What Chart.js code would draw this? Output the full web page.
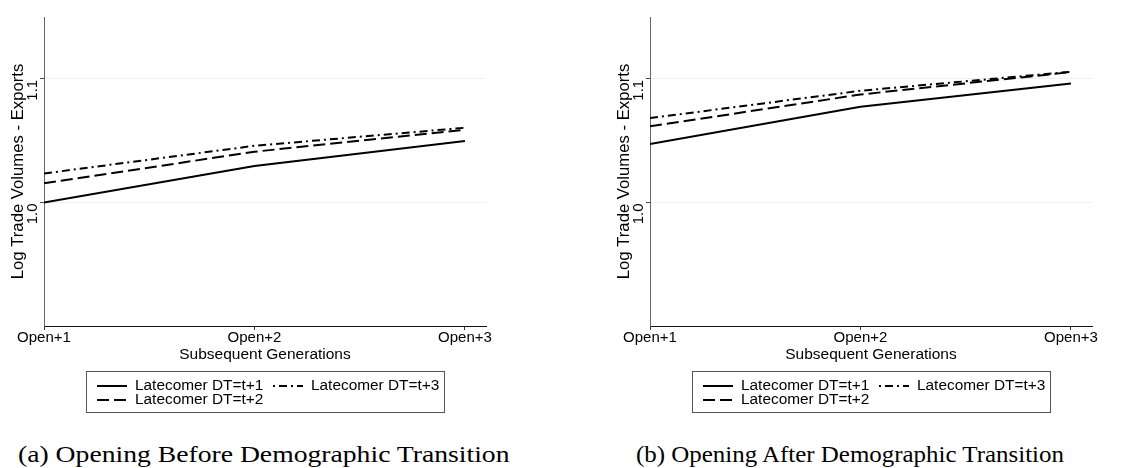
<!DOCTYPE html>
<html>
<head>
<meta charset="utf-8">
<script src="https://cdn.jsdelivr.net/npm/chart.js@4"></script>
<style>
  html, body { margin: 0; padding: 0; background: #fff; }
  body { width: 1136px; height: 468px; position: relative; overflow: hidden; }
  .wrap { position: absolute; top: 0; width: 530px; height: 420px; }
  .cap { position: absolute; top: 441px; font-family: "Liberation Serif", serif; font-size: 24px; color: #000; white-space: nowrap; transform-origin: 0 0; }
</style>
</head>
<body>
<div class="wrap" style="left:0px"><canvas id="c1" width="530" height="420"></canvas></div>
<div class="wrap" style="left:606px"><canvas id="c2" width="530" height="420"></canvas></div>
<div class="cap" id="capA">(a) Opening Before Demographic Transition</div>
<div class="cap" id="capB">(b) Opening After Demographic Transition</div>
<script>
// ---- data ----
const categories = ['Open+1', 'Open+2', 'Open+3'];
const xPositions = [1, 2, 3];
const yTickValues = [1.0, 1.1];
const yTickLabels = ['1.0', '1.1'];
const seriesNames = ['Latecomer DT=t+1', 'Latecomer DT=t+2', 'Latecomer DT=t+3'];

// (a) Opening Before Demographic Transition
const beforeT1 = [1.000, 1.0294, 1.0496];
const beforeT2 = [1.0154, 1.0410, 1.0588];
const beforeT3 = [1.0234, 1.0458, 1.0604];

// (b) Opening After Demographic Transition
const afterT1 = [1.0472, 1.0774, 1.0962];
const afterT2 = [1.0615, 1.0873, 1.1054];
const afterT3 = [1.0682, 1.0903, 1.1057];

const yTitle = 'Log Trade Volumes - Exports';
const xTitle = 'Subsequent Generations';

const FONT = '"Liberation Sans", Arial, sans-serif';
const dashes = [[], [12, 5], [8, 4, 2, 4]];

function toPoints(vals) { return vals.map((v, i) => ({ x: xPositions[i], y: v })); }

const decorPlugin = {
  id: 'decor',
  afterDraw(chart) {
    const ctx = chart.ctx;
    const xs = chart.scales.x, ys = chart.scales.y;
    const area = chart.chartArea;
    ctx.save();
    ctx.fillStyle = '#000';
    ctx.font = '15px ' + FONT;
    // y tick labels (rotated)
    yTickValues.forEach((v, i) => {
      const y = ys.getPixelForValue(v);
      ctx.save();
      ctx.translate(33, y + 1);
      ctx.rotate(-Math.PI / 2);
      ctx.textAlign = 'right';
      ctx.textBaseline = 'middle';
      ctx.fillText(yTickLabels[i], 0, 0);
      ctx.restore();
    });
    // y title
    ctx.save();
    ctx.font = '16.7px ' + FONT;
    ctx.translate(18, (area.top + area.bottom) / 2);
    ctx.rotate(-Math.PI / 2);
    ctx.textAlign = 'center';
    ctx.textBaseline = 'middle';
    ctx.fillText(yTitle, 0, 0);
    ctx.restore();
    // x tick labels
    ctx.textAlign = 'center';
    ctx.textBaseline = 'middle';
    categories.forEach((c, i) => {
      ctx.fillText(c, xs.getPixelForValue(xPositions[i]), 338);
    });
    // x title
    ctx.font = '15.5px ' + FONT;
    ctx.fillText(xTitle, (area.left + area.right) / 2, 355);

    // legend
    ctx.font = '15.4px ' + FONT;
    const boxL = 86, boxT = 371, boxW = 358, boxH = 41;
    ctx.strokeStyle = '#555';
    ctx.lineWidth = 1;
    ctx.strokeRect(boxL + 0.5, boxT + 0.5, boxW, boxH);
    const slots = [[0, 0], [1, 0], [0, 1]]; // [row, col] for each dataset
    chart.data.datasets.forEach((ds, i) => {
      const [row, col] = slots[i];
      const sx = boxL + (col === 0 ? 11 : 187);
      const cy = boxT + 15 + row * 14;
      ctx.save();
      ctx.strokeStyle = ds.borderColor;
      ctx.lineWidth = 2;
      ctx.setLineDash(ds.borderDash || []);
      ctx.lineDashOffset = i === 2 ? 12 : 0;
      ctx.beginPath();
      ctx.moveTo(sx, cy);
      ctx.lineTo(sx + 30, cy);
      ctx.stroke();
      ctx.restore();
      ctx.fillStyle = '#000';
      ctx.textAlign = 'left';
      ctx.textBaseline = 'middle';
      ctx.fillText(ds.label, sx + 38, cy);
    });
    ctx.restore();
  }
};

function makeChart(id, s1, s2, s3) {
  const series = [s1, s2, s3];
  return new Chart(document.getElementById(id), {
    type: 'line',
    data: {
      datasets: series.map((s, i) => ({
        label: seriesNames[i],
        data: toPoints(s),
        borderColor: '#000',
        borderWidth: 2,
        borderDash: dashes[i],
        pointRadius: 0,
        fill: false,
        tension: 0
      }))
    },
    options: {
      responsive: false,
      devicePixelRatio: 1,
      animation: false,
      layout: { padding: { left: 0, top: 17, right: 44, bottom: 90 } },
      plugins: { legend: { display: false }, tooltip: { enabled: false } },
      scales: {
        x: {
          type: 'linear',
          min: 1, max: 3.1,
          afterBuildTicks: (sc) => { sc.ticks = xPositions.map(v => ({ value: v })); },
          ticks: { display: false },
          grid: { drawOnChartArea: false, drawTicks: true, tickLength: 4, tickColor: '#333', lineWidth: 1 },
          border: { display: true, color: '#111', width: 1 }
        },
        y: {
          type: 'linear',
          min: 0.9, max: 1.15,
          afterBuildTicks: (sc) => { sc.ticks = yTickValues.map(v => ({ value: v })); },
          afterFit: (sc) => { sc.width = 44; },
          ticks: { display: false },
          grid: { color: '#e9f2f3', lineWidth: 1, drawTicks: true, tickLength: 4, tickColor: '#444' },
          border: { display: true, color: '#666', width: 1 }
        }
      }
    },
    plugins: [decorPlugin]
  });
}

makeChart('c1', beforeT1, beforeT2, beforeT3);
makeChart('c2', afterT1, afterT2, afterT3);

// captions: fit to reference widths
function fitCap(id, centerX, width) {
  const el = document.getElementById(id);
  const w = el.offsetWidth;
  const s = width / w;
  el.style.transform = 'scaleX(' + s + ')';
  el.style.left = (centerX - width / 2) + 'px';
}
fitCap('capA', 264, 492);
fitCap('capB', 850, 428);
</script>
</body>
</html>
